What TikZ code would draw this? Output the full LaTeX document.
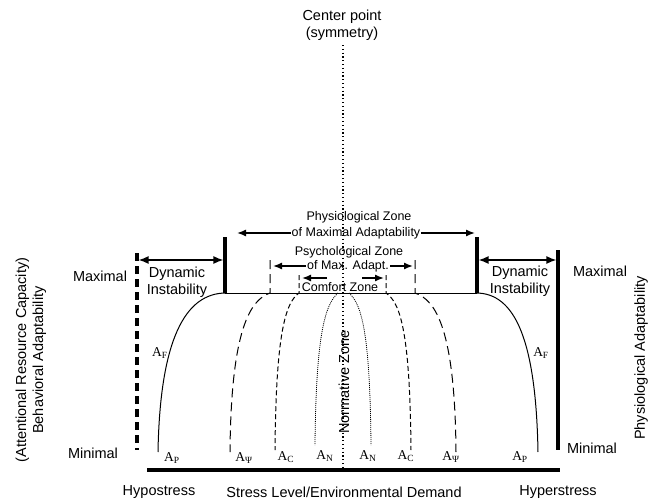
\documentclass[tikz,border=0pt]{standalone}
\usepackage{fontspec}
\setmainfont{Liberation Sans}
\newfontfamily\timesfont{Liberation Serif}
\usetikzlibrary{arrows.meta}

\tikzset{
  txt/.style={font=\fontsize{14.5}{17}\selectfont, align=center, inner sep=0pt},
  zonetxt/.style={font=\fontsize{12.5}{15}\selectfont, inner sep=1pt},
  alab/.style={font=\timesfont\fontsize{13.5}{15}\selectfont, inner sep=0pt},
  thickbar/.style={line width=3.2pt},
  curve/.style={line width=1pt},
  psidash/.style={curve, dash pattern=on 9pt off 5pt},
  cdash/.style={curve, dash pattern=on 5pt off 3pt},
  ndots/.style={line width=0.8pt, dash pattern=on 1pt off 1pt},
  zonearrow/.style={-{Latex[length=9pt,width=7pt]}, line width=1.4pt},
  bothways/.style={{Latex[length=10pt,width=8pt]}-{Latex[length=10pt,width=8pt]}, line width=1.4pt},
}

\begin{document}
\begin{tikzpicture}[x=1pt,y=-1pt]
    \useasboundingbox (0,0) rectangle (657,501);

    % symmetry line
    \node[txt] (center) at (342,25) {Center point\\(symmetry)};
    \draw[line width=1.2pt, dash pattern=on 1.2pt off 2.6pt] (343,45) -- (343,468);

    % walls and axis
    \draw[thickbar, dash pattern=on 8pt off 5pt] (137,253) -- (137,450);
    \draw[thickbar] (558,250) -- (558,450);
    \draw[line width=4pt] (147,470) -- (560,470);
    \draw[thickbar] (225,237) -- (225,293);
    \draw[thickbar] (477,237) -- (477,293);
    \draw[curve] (225,293) -- (477,293);

    % dynamic instability
    \coordinate (lwall) at (138.6,260);
    \coordinate (lbar) at (223.4,260);
    \coordinate (rbar) at (478.6,260);
    \coordinate (rwall) at (556.4,260);
    \draw[bothways] (lwall) -- (lbar);
    \draw[bothways] (rbar) -- (rwall);
    \node[txt] (dynL) at (177,282) {Dynamic\\Instability};
    \node[txt] (dynR) at (520,281) {Dynamic\\Instability};

    % adaptability curves
    \draw[curve] (226,293) .. controls (185,293) and (160,340) .. (158,452);
    \draw[psidash] (270,260) -- (270,293) .. controls (250,300) and (231,330) .. (230,452);
    \draw[cdash] (299,275) -- (299,293) .. controls (285,303) and (276,335) .. (275,450);
    \draw[ndots] (338,293) .. controls (324,305) and (316,340) .. (315,445);
    \draw[ndots] (349,293) .. controls (363,305) and (370,340) .. (371,445);
    \draw[cdash] (386,275) -- (386,293) .. controls (401,303) and (410,335) .. (411,450);
    \draw[psidash] (415,260) -- (415,293) .. controls (436,300) and (455,330) .. (456,452);
    \draw[curve] (476,293) .. controls (515,293) and (536,340) .. (538,452);

    % curve labels
    \node[alab] (apL) at (172,458) {A\textsubscript{P}};
    \node[alab] (asL) at (244,458) {A\textsubscript{Ψ}};
    \node[alab] (acL) at (286,457) {A\textsubscript{C}};
    \node[alab] (anL) at (325,456) {A\textsubscript{N}};
    \node[alab] (anR) at (368,456) {A\textsubscript{N}};
    \node[alab] (acR) at (406,456) {A\textsubscript{C}};
    \node[alab] (asR) at (451,457) {A\textsubscript{Ψ}};
    \node[alab] (apR) at (520,457) {A\textsubscript{P}};
    \node[alab] (afL) at (160,353) {A\textsubscript{F}};
    \node[alab] (afR) at (541,353) {A\textsubscript{F}};

    % zones
    \node[zonetxt] (physA) at (359,217) {Physiological Zone};
    \node[zonetxt] (physB) at (356,233) {of Maximal Adaptability};
    \coordinate (physL) at (237,233);
    \coordinate (physR) at (475,233);
    \draw[zonearrow] (physB.west) -- (physL);
    \draw[zonearrow] (physB.east) -- (physR);

    \node[zonetxt] (psyA) at (349,252) {Psychological Zone};
    \node[zonetxt] (psyB) at (348,266) {of Max. Adapt.};
    \coordinate (psyL) at (273,266);
    \coordinate (psyR) at (413,266);
    \draw[zonearrow] (psyB.west) -- (psyL);
    \draw[zonearrow] (psyB.east) -- (psyR);

    \node[zonetxt] (comfort) at (340,287) {Comfort Zone};
    \coordinate (comfLt) at (327,278);
    \coordinate (comfL) at (302,278);
    \coordinate (comfRt) at (362,278);
    \coordinate (comfR) at (384,278);
    \draw[zonearrow] (comfLt) -- (comfL);
    \draw[zonearrow] (comfRt) -- (comfR);

    \node[txt, rotate=90] (norm) at (344,382) {Normative Zone};

    % axis labels
    \node[txt] (maxL) at (100,276) {Maximal};
    \node[txt] (minL) at (93,453) {Minimal};
    \node[txt] (maxR) at (600,271) {Maximal};
    \node[txt] (minR) at (592,448) {Minimal};
    \node[txt, rotate=90] (behav) at (31,360) {(Attentional Resource Capacity)\\Behavioral Adaptability};
    \node[txt, rotate=90] (physio) at (641,358) {Physiological Adaptability};

    \node[txt] (hypo) at (159,492) {Hypostress};
    \node[txt] (stress) at (344,492) {Stress Level/Environmental Demand};
    \node[txt] (hyper) at (558,492) {Hyperstress};
\end{tikzpicture}
\end{document}
